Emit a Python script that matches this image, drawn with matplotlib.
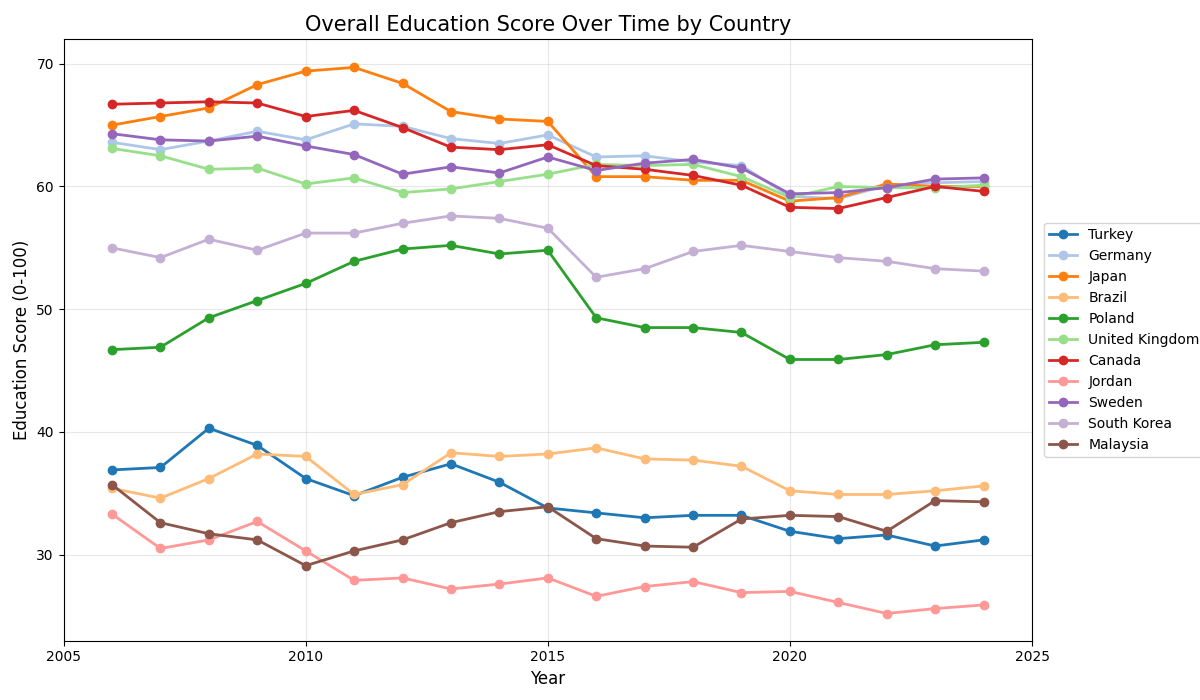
import matplotlib
matplotlib.use("Agg")
import matplotlib.pyplot as plt

years = list(range(2006, 2025))
turkey = [36.9,37.1,40.3,38.9,36.2,34.8,36.3,37.4,35.9,33.8,33.4,33.0,33.2,33.2,31.9,31.3,31.6,30.7,31.2]
germany = [63.6,63.0,63.7,64.5,63.8,65.1,64.9,63.9,63.5,64.2,62.4,62.5,62.0,61.7,59.2,59.0,60.1,60.3,60.4]
japan = [65.0,65.7,66.4,68.3,69.4,69.7,68.4,66.1,65.5,65.3,60.8,60.8,60.5,60.5,58.8,59.1,60.2,60.0,60.0]
brazil = [35.4,34.6,36.2,38.2,38.0,34.9,35.7,38.3,38.0,38.2,38.7,37.8,37.7,37.2,35.2,34.9,34.9,35.2,35.6]
poland = [46.7,46.9,49.3,50.7,52.1,53.9,54.9,55.2,54.5,54.8,49.3,48.5,48.5,48.1,45.9,45.9,46.3,47.1,47.3]
uk = [63.1,62.5,61.4,61.5,60.2,60.7,59.5,59.8,60.4,61.0,61.8,61.7,61.8,60.8,59.1,60.0,59.9,59.9,60.1]
canada = [66.7,66.8,66.9,66.8,65.7,66.2,64.8,63.2,63.0,63.4,61.7,61.4,60.9,60.1,58.3,58.2,59.1,60.0,59.6]
jordan = [33.3,30.5,31.2,32.7,30.3,27.9,28.1,27.2,27.6,28.1,26.6,27.4,27.8,26.9,27.0,26.1,25.2,25.6,25.9]
sweden = [64.3,63.8,63.7,64.1,63.3,62.6,61.0,61.6,61.1,62.4,61.3,61.9,62.2,61.5,59.4,59.5,59.9,60.6,60.7]
skorea = [55.0,54.2,55.7,54.8,56.2,56.2,57.0,57.6,57.4,56.6,52.6,53.3,54.7,55.2,54.7,54.2,53.9,53.3,53.1]
malaysia = [35.7,32.6,31.7,31.2,29.1,30.3,31.2,32.6,33.5,33.9,31.3,30.7,30.6,32.9,33.2,33.1,31.9,34.4,34.3]

series = [("Turkey",turkey),("Germany",germany),("Japan",japan),("Brazil",brazil),
          ("Poland",poland),("United Kingdom",uk),("Canada",canada),("Jordan",jordan),
          ("Sweden",sweden),("South Korea",skorea),("Malaysia",malaysia)]
colors = plt.get_cmap("tab20").colors

fig, ax = plt.subplots(figsize=(12, 7), dpi=100)
for i, (name, vals) in enumerate(series):
    ax.plot(years, vals, marker="o", lw=2, ms=6, color=colors[i], label=name)
ax.set_xlim(2005, 2025)
ax.set_ylim(23, 72)
ax.set_xticks([2005, 2010, 2015, 2020, 2025])
ax.grid(True, alpha=0.3)
ax.set_title("Overall Education Score Over Time by Country", fontsize=15)
ax.set_xlabel("Year", fontsize=12)
ax.set_ylabel("Education Score (0-100)", fontsize=12)
ax.legend(loc="center left", bbox_to_anchor=(1.005, 0.5))
fig.subplots_adjust(left=0.053, right=0.86, top=0.944, bottom=0.085)
fig.savefig("out.png")
